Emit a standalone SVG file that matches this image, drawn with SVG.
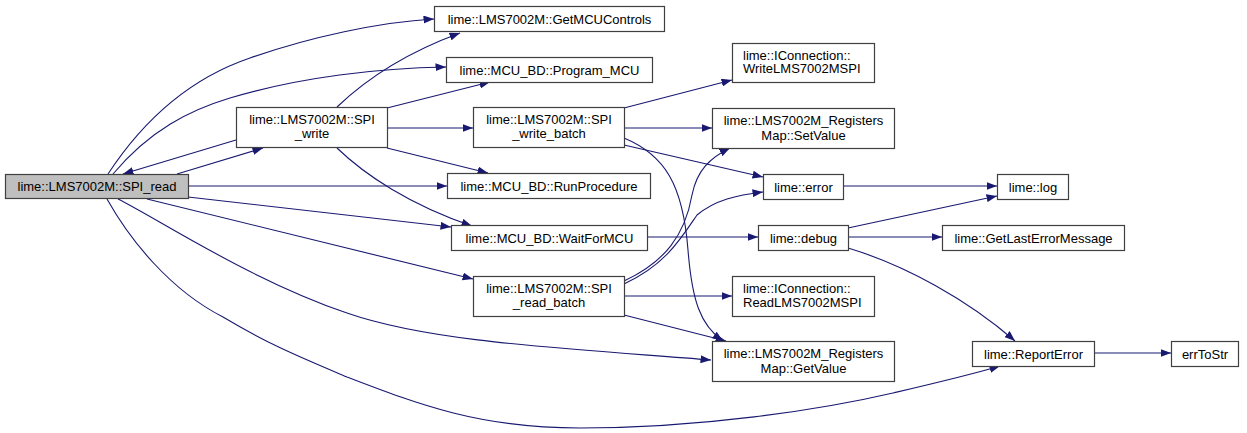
<svg xmlns="http://www.w3.org/2000/svg" width="1247" height="433" viewBox="0 0 1247 433">
<style>
.box{fill:#ffffff;stroke:#404040;stroke-width:1.2}
.cur{fill:#bfbfbf;stroke:#404040;stroke-width:1.2}
text{font-family:"Liberation Sans",Arial,sans-serif;font-size:13px;fill:#000000}
.c{text-anchor:middle}
.e{fill:none;stroke:#191970;stroke-width:1.1;marker-end:url(#ah)}
</style>
<defs>
<marker id="ah" markerUnits="userSpaceOnUse" markerWidth="11" markerHeight="8" refX="10.5" refY="4" orient="auto">
<path d="M0,0 L10.5,4 L0,8 Z" fill="#191970"/>
</marker>
</defs>
<rect width="1247" height="433" fill="#ffffff"/>
<g id="edges">
<path class="e" d="M108,174 C150,110 200,75 250,58 C310,37 380,22 434,19"/>
<path class="e" d="M113,174 C150,130 190,110 230,98 C300,77 380,68 446,67"/>
<path class="e" d="M177,174 L263,148"/>
<path class="e" d="M236,140 L123,174"/>
<path class="e" d="M188,186 L447,186"/>
<path class="e" d="M188,197 L451,227"/>
<path class="e" d="M147,199 L473,279"/>
<path class="e" d="M118,199 C160,220 250,280 347,313 C430,342 560,348 711,360"/>
<path class="e" d="M107,199 C130,240 170,290 223,317 C270,345 300,357 347,377 C420,405 480,428 580,428 C700,428 820,410 893,393 C940,382 970,375 1000,366"/>
<path class="e" d="M337,107 C360,85 400,55 460,33"/>
<path class="e" d="M387,108 L490,82"/>
<path class="e" d="M387,128 L473,128"/>
<path class="e" d="M387,148 L488,173"/>
<path class="e" d="M337,148 C365,175 410,205 472,226"/>
<path class="e" d="M624,108 L732,80"/>
<path class="e" d="M624,128 L712,128"/>
<path class="e" d="M624,145 L763,177"/>
<path class="e" d="M624,138 C665,155 683,185 688,250 C692,300 700,325 723,341"/>
<path class="e" d="M624,281 C665,262 685,235 692,195 C697,170 710,158 730,148"/>
<path class="e" d="M624,284 C665,265 680,240 697,215 C715,200 737,195 763,192"/>
<path class="e" d="M624,296 L732,296"/>
<path class="e" d="M624,315 L726,341"/>
<path class="e" d="M647,237 L758,237"/>
<path class="e" d="M843,186 L997,186"/>
<path class="e" d="M848,228 L997,196"/>
<path class="e" d="M848,237 L942,237"/>
<path class="e" d="M848,248 C905,265 968,300 1015,341"/>
<path class="e" d="M1094,353 L1171,353"/>
</g>
<g id="n0"><rect class="cur" x="5.5" y="174.5" width="183" height="24"/><text class="c" x="97" y="191">lime::LMS7002M::SPI_read</text></g>
<g id="n1"><rect class="box" x="236.5" y="107.5" width="151" height="40"/><text class="c" x="312" y="124">lime::LMS7002M::SPI</text><text class="c" x="312" y="138">_write</text></g>
<g id="n2"><rect class="box" x="434.5" y="6.5" width="230" height="25"/><text class="c" x="549.5" y="23.5">lime::LMS7002M::GetMCUControls</text></g>
<g id="n3"><rect class="box" x="446.5" y="57.5" width="206" height="25"/><text class="c" x="549.5" y="74.5">lime::MCU_BD::Program_MCU</text></g>
<g id="n4"><rect class="box" x="473.5" y="107.5" width="151" height="40"/><text class="c" x="549" y="124">lime::LMS7002M::SPI</text><text class="c" x="549" y="138">_write_batch</text></g>
<g id="n5"><rect class="box" x="447.5" y="173.5" width="203" height="25"/><text class="c" x="549" y="190.5">lime::MCU_BD::RunProcedure</text></g>
<g id="n6"><rect class="box" x="451.5" y="225.5" width="196" height="25"/><text class="c" x="549.5" y="242.5">lime::MCU_BD::WaitForMCU</text></g>
<g id="n7"><rect class="box" x="473.5" y="276.5" width="151" height="40"/><text class="c" x="549" y="293">lime::LMS7002M::SPI</text><text class="c" x="549" y="307">_read_batch</text></g>
<g id="n8"><rect class="box" x="732.5" y="43.5" width="142" height="39"/><text x="743" y="59.5">lime::IConnection::</text><text x="743" y="73">WriteLMS7002MSPI</text></g>
<g id="n9"><rect class="box" x="712.5" y="108.5" width="182" height="40"/><text class="c" x="803.5" y="124.5">lime::LMS7002M_Registers</text><text class="c" x="803.5" y="139.5">Map::SetValue</text></g>
<g id="n10"><rect class="box" x="763.5" y="174.5" width="80" height="25"/><text class="c" x="803.5" y="191.5">lime::error</text></g>
<g id="n11"><rect class="box" x="997.5" y="174.5" width="71" height="25"/><text class="c" x="1033" y="191.5">lime::log</text></g>
<g id="n12"><rect class="box" x="758.5" y="225.5" width="90" height="25"/><text class="c" x="803.5" y="242.5">lime::debug</text></g>
<g id="n13"><rect class="box" x="942.5" y="225.5" width="182" height="25"/><text class="c" x="1033.5" y="242.5">lime::GetLastErrorMessage</text></g>
<g id="n14"><rect class="box" x="732.5" y="276.5" width="142" height="40"/><text x="743" y="292.5">lime::IConnection::</text><text x="743" y="306.5">ReadLMS7002MSPI</text></g>
<g id="n15"><rect class="box" x="712.5" y="341.5" width="182" height="40"/><text class="c" x="803.5" y="357.5">lime::LMS7002M_Registers</text><text class="c" x="803.5" y="372.5">Map::GetValue</text></g>
<g id="n16"><rect class="box" x="972.5" y="341.5" width="122" height="25"/><text class="c" x="1033.5" y="358.5">lime::ReportError</text></g>
<g id="n17"><rect class="box" x="1171.5" y="341.5" width="67" height="25"/><text class="c" x="1205" y="358.5">errToStr</text></g>
</svg>
